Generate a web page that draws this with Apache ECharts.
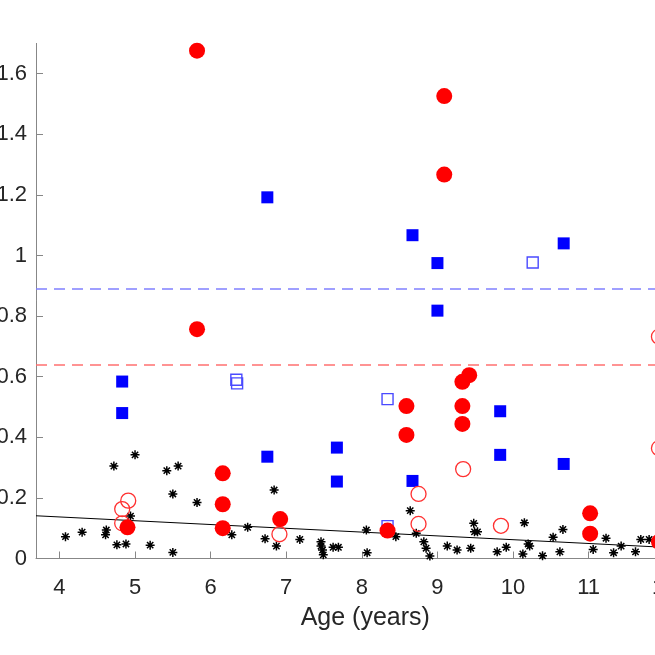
<!DOCTYPE html>
<html><head><meta charset="utf-8">
<script src="https://cdn.jsdelivr.net/npm/echarts@6/dist/echarts.min.js"></script>
<style>html,body{margin:0;padding:0;background:#fff;overflow:hidden;width:655px;height:655px}#c{width:710px;height:655px}</style>
</head><body><div id="c"></div>
<script>
// ---- data ----
const xTicks = [4, 5, 6, 7, 8, 9, 10, 11, 12];
const yTicks = [0, 0.2, 0.4, 0.6, 0.8, 1, 1.2, 1.4, 1.6];

const redFilledAge = [5.82, 5.82, 6.16, 6.16, 6.16, 4.90, 6.92, 8.34, 8.59, 8.59, 9.09, 9.09, 9.33, 9.42, 9.33, 9.33, 11.02, 11.02, 11.93];
const redFilledVal = [1.676, 0.757, 0.281, 0.179, 0.100, 0.103, 0.130, 0.092, 0.503, 0.408, 1.526, 1.267, 0.583, 0.605, 0.503, 0.444, 0.149, 0.082, 0.055];

const redOpenAge = [4.91, 4.83, 4.83, 6.91, 8.75, 8.75, 9.34, 9.84, 11.93, 11.93];
const redOpenVal = [0.191, 0.163, 0.116, 0.080, 0.213, 0.114, 0.295, 0.108, 0.732, 0.364];

const blueFilledAge = [4.83, 4.83, 6.75, 6.75, 7.67, 7.67, 8.67, 8.67, 9.00, 9.00, 9.83, 9.83, 10.67, 10.67];
const blueFilledVal = [0.584, 0.480, 1.192, 0.336, 0.366, 0.254, 1.067, 0.256, 0.975, 0.818, 0.486, 0.342, 1.040, 0.312];

const blueOpenAge = [6.34, 6.35, 8.34, 8.34, 10.26];
const blueOpenVal = [0.590, 0.578, 0.526, 0.107, 0.977];

const starAge = [4.08, 4.30, 4.61, 4.62, 4.72, 4.76, 4.88, 4.94, 5.00, 5.20, 5.42, 5.50, 5.50, 5.57, 5.82,
  6.28, 6.49, 6.72, 6.84, 6.87, 7.18, 7.46, 7.46, 7.48, 7.49, 7.62, 7.69, 8.06, 8.07, 8.45,
  8.64, 8.72, 8.82, 8.85, 8.90, 9.13, 9.26, 9.44, 9.48, 9.49, 9.53, 9.79, 9.91, 10.13, 10.15,
  10.20, 10.22, 10.39, 10.53, 10.62, 10.66, 11.06, 11.23, 11.33, 11.43, 11.62, 11.69, 11.80];
const starVal = [0.072, 0.087, 0.078, 0.094, 0.305, 0.045, 0.048, 0.140, 0.342, 0.044, 0.290, 0.213, 0.020, 0.305, 0.185,
  0.078, 0.103, 0.065, 0.226, 0.041, 0.063, 0.055, 0.041, 0.028, 0.012, 0.037, 0.037, 0.094, 0.019, 0.072,
  0.158, 0.083, 0.055, 0.034, 0.008, 0.041, 0.028, 0.034, 0.116, 0.088, 0.088, 0.022, 0.037, 0.015, 0.118,
  0.048, 0.041, 0.009, 0.070, 0.022, 0.096, 0.030, 0.067, 0.019, 0.041, 0.022, 0.063, 0.063];

const fitAge = [3.69, 12.4];
const fitVal = [0.141, 0.032];

const blueThreshold = 0.892;
const redThreshold = 0.636;

// ---- chart ----
const zip = (a, b) => a.map((v, i) => [v, b[i]]);
const FONT = 'Liberation Sans, Arial, Helvetica, sans-serif';
const AX = '#878787';
const TXT = '#262626';
const xMin = 3.69, xMax = 12.4, pxPerYear = 75.6;
const gridLeft = 36, gridTop = 43.4, gridBottom = 96.5;
const gridWidth = (xMax - xMin) * pxPerYear;

const starPath = 'path://M5,0L5,10M0,5L10,5M1.5,1.5L8.5,8.5M1.5,8.5L8.5,1.5';

const chart = echarts.init(document.getElementById('c'), null, {renderer: 'canvas'});
chart.setOption({
  animation: false,
  backgroundColor: '#ffffff',
  textStyle: {fontFamily: FONT},
  grid: {left: gridLeft, top: gridTop, bottom: gridBottom, width: gridWidth, containLabel: false, outerBoundsMode: 'none'},
  xAxis: {
    type: 'value', min: xMin, max: xMax,
    axisLine: {show: true, onZero: false, lineStyle: {color: AX, width: 1}},
    axisTick: {show: true, inside: true, length: 7, customValues: xTicks, lineStyle: {color: AX, width: 1}},
    axisLabel: {customValues: xTicks, margin: 18, fontSize: 22, color: TXT, fontFamily: FONT},
    splitLine: {show: false},
    name: 'Age (years)', nameLocation: 'middle', nameGap: 47,
    nameTextStyle: {fontSize: 25, color: TXT, fontFamily: FONT}
  },
  yAxis: {
    type: 'value', min: 0, max: 1.7,
    axisLine: {show: true, onZero: false, lineStyle: {color: AX, width: 1}},
    axisTick: {show: true, inside: true, length: 7, customValues: yTicks, lineStyle: {color: AX, width: 1}},
    axisLabel: {customValues: yTicks, margin: 9, fontSize: 22, color: TXT, fontFamily: FONT,
      formatter: v => String(+(+v).toFixed(1))},
    splitLine: {show: false}
  },
  series: [
    {
      type: 'line', data: zip(fitAge, fitVal), showSymbol: false, symbol: 'none',
      lineStyle: {color: '#000', width: 1}, z: 2, silent: true,
      markLine: {
        silent: true, symbol: ['none', 'none'], label: {show: false},
        data: [
          {yAxis: blueThreshold, lineStyle: {color: '#8080ff', width: 1.5, type: [11, 7]}},
          {yAxis: redThreshold, lineStyle: {color: '#ff7070', width: 1.5, type: [11, 7]}}
        ]
      }
    },
    {
      type: 'scatter', data: zip(starAge, starVal), symbol: starPath, symbolSize: 9,
      itemStyle: {color: 'transparent', borderColor: '#000', borderWidth: 1.5, opacity: 1}, z: 3
    },
    {
      type: 'scatter', data: zip(blueOpenAge, blueOpenVal), symbol: 'rect', symbolSize: 11,
      itemStyle: {color: 'transparent', borderColor: '#4a4aff', borderWidth: 1.4, opacity: 1}, z: 4
    },
    {
      type: 'scatter', data: zip(blueFilledAge, blueFilledVal), symbol: 'rect', symbolSize: 12,
      itemStyle: {color: '#0000ff', opacity: 1}, z: 4
    },
    {
      type: 'scatter', data: zip(redOpenAge, redOpenVal), symbol: 'circle', symbolSize: 15,
      itemStyle: {color: 'transparent', borderColor: '#ff3030', borderWidth: 1.3, opacity: 1}, z: 5
    },
    {
      type: 'scatter', data: zip(redFilledAge, redFilledVal), symbol: 'circle', symbolSize: 16,
      itemStyle: {color: '#ff0000', opacity: 1}, z: 5
    }
  ]
});
</script>
</body></html>
